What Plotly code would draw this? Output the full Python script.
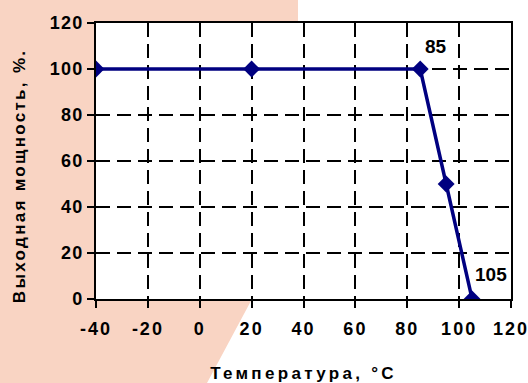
import plotly.graph_objects as go

# Data
temps = [-40, 20, 85, 95, 105]
power = [100, 100, 100, 50, 0]
label_temps = [85, 105]
label_power = [100, 0]
label_text = ["85", "105"]
x_ticks = [-40, -20, 0, 20, 40, 60, 80, 100, 120]
y_ticks = [0, 20, 40, 60, 80, 100, 120]
x_title = "Температура, °C"
y_title = "Выходная мощность, %."

FONT = "Liberation Sans, Arial, sans-serif"
W, H = 528, 383
L, R, T, B = 96, 17, 23, 84
pw, ph = W - L - R, H - T - B

def px2paper(px, py):
    return (px - L) / pw, (H - B - py) / ph

poly_px = [(0, 0), (298, 0), (298, T), (L, T), (L, H - B), (252, H - B), (207, H), (0, H)]
pts = [px2paper(a, b) for a, b in poly_px]
path = "M " + " L ".join(f"{a},{b}" for a, b in pts) + " Z"

fig = go.Figure()
fig.add_trace(go.Scatter(
    x=temps, y=power, mode="lines+markers",
    line=dict(color="#000080", width=3.5),
    marker=dict(symbol="diamond", size=13, color="#000080"),
    hoverinfo="skip", showlegend=False,
))

shifts = [(16, 23), (19, 25)]
for t, p, s, (dx, dy) in zip(label_temps, label_power, label_text, shifts):
    fig.add_annotation(x=t, y=p, text=s, showarrow=False, xanchor="center", yanchor="middle",
                       xshift=dx, yshift=dy,
                       font=dict(family=FONT, size=19, color="black", weight="bold"))

yx, yy = px2paper(19, 176)
fig.add_annotation(x=yx, y=yy, xref="paper", yref="paper", text=y_title, textangle=-90,
                   showarrow=False, xanchor="center", yanchor="middle",
                   font=dict(family=FONT, size=17, color="black", weight="bold"))

fig.add_shape(type="path", path=path, xref="paper", yref="paper",
              fillcolor="#F9D4C3", line=dict(width=0), layer="below")

axis_common = dict(
    showline=True, linecolor="black", linewidth=2, mirror=True,
    ticks="outside", ticklen=7, tickwidth=2, tickcolor="black",
    showgrid=True, gridcolor="black", gridwidth=2, griddash="14px,7px",
    zeroline=False, automargin=False,
)
fig.update_xaxes(range=[-40, 120], tickmode="array", tickvals=x_ticks,
                 ticktext=[str(v) for v in x_ticks], ticklabelstandoff=5,
                 tickfont=dict(family=FONT, size=18, color="black", weight="bold"),
                 title=dict(text=x_title, standoff=30,
                            font=dict(family=FONT, size=17, color="black", weight="bold")),
                 **axis_common)
fig.update_yaxes(range=[0, 120], tickmode="array", tickvals=y_ticks,
                 ticktext=[str(v) for v in y_ticks],
                 tickfont=dict(family=FONT, size=18, color="black", weight="bold"),
                 **axis_common)

fig.update_layout(
    width=W, height=H, margin=dict(l=L, r=R, t=T, b=B, pad=0, autoexpand=False),
    paper_bgcolor="white", plot_bgcolor="white",
)

post = """
document.body.style.margin='0';
document.body.style.padding='0';
function fix(){
  document.querySelectorAll('.xtitle').forEach(function(e){e.style.letterSpacing='3.3px';});
  document.querySelectorAll('.xtick text').forEach(function(e){e.style.letterSpacing='2px';});
  document.querySelectorAll('.ytick text').forEach(function(e){e.style.letterSpacing='1.2px';});
  document.querySelectorAll('.annotation-text').forEach(function(e){
    if(e.textContent.length>5){e.style.letterSpacing='2.3px';}
  });
}
fix(); setTimeout(fix, 50);
"""
fig.write_html("out.html", config={"displayModeBar": False}, post_script=post)
